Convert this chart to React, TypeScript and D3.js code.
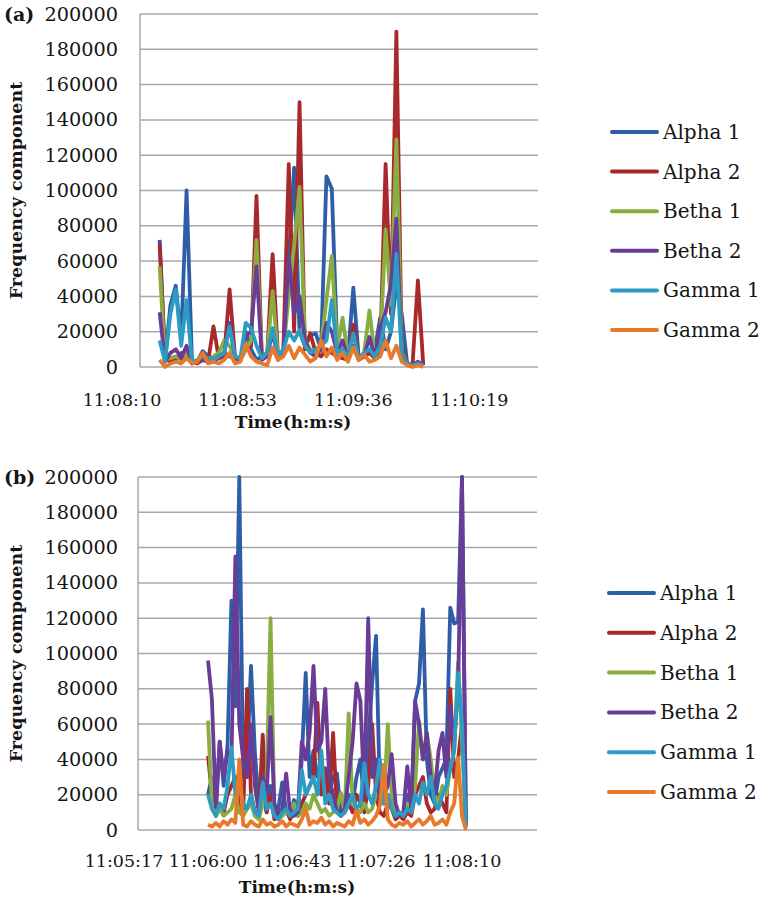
import React from "react";
import * as d3 from "d3";

// series (values in thousands)
const seriesNames = ["Alpha 1", "Alpha 2", "Betha 1", "Betha 2", "Gamma 1", "Gamma 2"];
const seriesColors = ["#2F5EA8", "#A8282C", "#88AE42", "#693C97", "#2C9CC2", "#E8782A"];
const yTicks = [0, 20, 40, 60, 80, 100, 120, 140, 160, 180, 200];

// panel (a)
const timeTicksA = ["11:08:10", "11:08:53", "11:09:36", "11:10:19"];
const startA = "11:08:24";
const stepA = 2; // seconds between samples
const alpha1A = [72, 4, 35, 46, 15, 100, 4, 3, 9, 6, 3, 5, 8, 6, 5, 4, 20, 10, 4, 6, 8, 10, 5, 8, 60, 113, 20, 12, 18, 19, 10, 108, 101, 12, 8, 6, 45, 5, 6, 8, 10, 28, 10, 20, 47, 30, 2, 1, 2, 1];
const alpha2A = [70, 5, 3, 4, 8, 6, 3, 2, 4, 3, 23, 5, 6, 44, 6, 4, 10, 12, 97, 5, 8, 64, 6, 10, 115, 20, 150, 10, 19, 8, 6, 10, 8, 6, 5, 4, 24, 5, 6, 8, 5, 10, 115, 30, 190, 10, 2, 1, 49, 1];
const betha1A = [57, 4, 5, 6, 4, 8, 2, 3, 5, 4, 6, 8, 15, 12, 5, 4, 10, 15, 72, 6, 8, 43, 5, 10, 40, 69, 102, 15, 10, 8, 12, 38, 63, 10, 28, 6, 10, 5, 8, 32, 6, 12, 78, 35, 129, 8, 2, 1, 2, 1];
const betha2A = [31, 3, 8, 10, 5, 12, 2, 3, 4, 5, 4, 6, 8, 25, 5, 4, 18, 20, 57, 4, 6, 20, 4, 8, 63, 30, 40, 15, 8, 6, 10, 25, 20, 8, 15, 5, 12, 4, 6, 17, 5, 22, 31, 47, 84, 6, 2, 1, 3, 1];
const gamma1A = [15, 3, 30, 44, 12, 38, 3, 4, 6, 5, 4, 6, 8, 23, 6, 5, 25, 22, 12, 5, 8, 22, 6, 10, 20, 15, 21, 12, 8, 10, 12, 15, 38, 8, 10, 6, 19, 5, 8, 10, 6, 12, 28, 20, 64, 5, 2, 1, 2, 1];
const gamma2A = [4, 0, 2, 3, 2, 5, 2, 3, 8, 2, 3, 2, 4, 8, 2, 3, 13, 6, 3, 2, 1, 11, 4, 6, 12, 5, 11, 7, 3, 5, 15, 6, 11, 4, 8, 3, 11, 4, 7, 3, 4, 6, 15, 5, 12, 3, 1, 0, 1, 0];

// panel (b)
const timeTicksB = ["11:05:17", "11:06:00", "11:06:43", "11:07:26", "11:08:10"];
const startB = "11:06:00";
const stepB = 2;
const alpha1B = [20, 30, 10, 50, 25, 48, 130, 70, 200, 30, 40, 93, 44, 15, 20, 10, 25, 8, 12, 27, 10, 8, 17, 12, 40, 89, 30, 45, 30, 35, 25, 20, 30, 32, 10, 12, 20, 15, 30, 40, 15, 50, 83, 110, 20, 15, 20, 15, 8, 10, 8, 20, 10, 73, 83, 125, 40, 20, 15, 30, 35, 40, 126, 117, 118, 200, 2];
const alpha2B = [42, 20, 8, 15, 10, 20, 25, 30, 15, 10, 80, 20, 10, 8, 54, 10, 20, 6, 8, 10, 12, 6, 10, 8, 15, 20, 25, 30, 72, 20, 35, 15, 55, 12, 8, 10, 15, 10, 20, 15, 10, 25, 60, 20, 10, 8, 15, 12, 6, 8, 6, 10, 8, 20, 25, 30, 15, 10, 12, 20, 15, 10, 80, 30, 40, 60, 2];
const betha1B = [62, 15, 8, 12, 8, 10, 12, 20, 10, 8, 12, 15, 8, 6, 15, 30, 120, 10, 6, 8, 10, 12, 15, 8, 10, 15, 12, 20, 15, 10, 12, 8, 10, 12, 21, 10, 66, 15, 12, 10, 15, 10, 12, 20, 30, 15, 60, 20, 10, 8, 10, 15, 10, 25, 62, 40, 55, 40, 20, 15, 25, 20, 35, 45, 95, 50, 3];
const betha2B = [96, 74, 13, 50, 30, 45, 40, 155, 60, 40, 30, 60, 25, 10, 30, 20, 64, 15, 8, 12, 32, 10, 8, 10, 50, 40, 55, 93, 45, 50, 80, 30, 20, 10, 8, 12, 30, 50, 83, 73, 20, 120, 30, 40, 15, 20, 25, 43, 15, 8, 10, 36, 12, 73, 60, 40, 55, 30, 20, 45, 55, 30, 70, 50, 80, 200, 3];
const gamma1B = [20, 12, 8, 15, 12, 25, 47, 20, 25, 15, 12, 20, 10, 8, 27, 12, 15, 8, 6, 10, 12, 8, 10, 12, 34, 20, 25, 30, 20, 45, 15, 20, 12, 10, 8, 10, 15, 20, 12, 15, 38, 20, 15, 25, 40, 15, 20, 12, 8, 10, 8, 12, 10, 20, 15, 27, 20, 30, 15, 12, 20, 25, 35, 45, 89, 60, 2];
const gamma2B = [3, 2, 4, 2, 5, 3, 6, 4, 40, 3, 2, 5, 3, 2, 6, 3, 4, 2, 3, 5, 2, 4, 3, 2, 6, 12, 3, 5, 4, 7, 3, 5, 2, 4, 3, 2, 5, 3, 11, 4, 6, 3, 5, 8, 14, 37, 6, 3, 2, 4, 3, 5, 2, 4, 6, 3, 5, 8, 3, 4, 6, 3, 10, 15, 41, 8, 0];

const SERIF = "'DejaVu Serif', serif";

const toSec = (s: string) => {
  const [h, m, ss] = s.split(":").map(Number);
  return h * 3600 + m * 60 + ss;
};

function Panel({ tag, layout, ticks, start, step, series }: any) {
  const L = layout;
  const y = d3.scaleLinear().domain([0, 200]).range([L.bottom, L.top]);
  const x = d3
    .scaleLinear()
    .domain([toSec(ticks[0]), toSec(ticks[ticks.length - 1])])
    .range(L.tickX);
  const t0 = toSec(start);
  const line = d3
    .line<number>()
    .x((d, i) => x(t0 + i * step))
    .y((d) => y(d));

  return (
    <g>
      {/* gridlines */}
      {yTicks.map((t) => (
        <line key={t} x1={L.left} x2={L.right} y1={y(t)} y2={y(t)} stroke="#A8A8A8" strokeWidth={1.5} />
      ))}
      <line x1={L.left} x2={L.left} y1={y(200)} y2={y(0)} stroke="#A8A8A8" strokeWidth={1.5} />
      {yTicks.map((t) => (
        <text key={t} x={118} y={y(t)} textAnchor="end" dominantBaseline="central" fontSize={19.3} fill="#151515">
          {String(t * 1000)}
        </text>
      ))}
      {ticks.map((t: string) => (
        <text key={t} x={x(toSec(t))} y={L.xLabelY} textAnchor="middle" fontSize={17.5} fill="#151515">
          {t}
        </text>
      ))}
      {/* series, first drawn at the back */}
      {series.map((s: number[], k: number) => (
        <path key={k} d={line(s) || ""} fill="none" stroke={seriesColors[k]} strokeWidth={3.8} strokeLinejoin="round" />
      ))}
      <text x={4} y={y(200)} dominantBaseline="central" fontSize={19} fontWeight="bold" fill="#151515">
        {tag}
      </text>
      <text
        transform={`translate(16,${(L.top + L.bottom) / 2}) rotate(-90)`}
        textAnchor="middle"
        dominantBaseline="central"
        fontSize={17.5}
        fontWeight="bold"
        fill="#151515"
      >
        Frequency component
      </text>
      <text x={L.titleX} y={L.xTitleY} textAnchor="middle" fontSize={17} fontWeight="bold" fill="#151515">
        Time(h:m:s)
      </text>
      {/* legend */}
      {seriesNames.map((n, k) => {
        const ly = L.legY + k * L.legDy;
        return (
          <g key={n}>
            <line x1={L.legX[0]} x2={L.legX[1]} y1={ly} y2={ly} stroke={seriesColors[k]} strokeWidth={4} strokeLinecap="round" />
            <text x={L.legX[1] + 6} y={ly} dominantBaseline="central" fontSize={20} fill="#151515">
              {n}
            </text>
          </g>
        );
      })}
    </g>
  );
}

const layoutA = {
  left: 140, right: 538, top: 14, bottom: 367,
  tickX: [122, 469], xLabelY: 406, xTitleY: 428, titleX: 293,
  legX: [612, 657], legY: 132, legDy: 39.6,
};
const layoutB = {
  left: 138, right: 537, top: 477, bottom: 830,
  tickX: [124, 462], xLabelY: 867, xTitleY: 893, titleX: 297,
  legX: [609, 654], legY: 593, legDy: 39.8,
};

export default function App() {
  return (
    <svg
      width={768}
      height={908}
      style={{ position: "absolute", left: 0, top: 0, background: "#fff" }}
      fontFamily={SERIF}
    >
      <Panel
        tag="(a)"
        layout={layoutA}
        ticks={timeTicksA}
        start={startA}
        step={stepA}
        series={[alpha1A, alpha2A, betha1A, betha2A, gamma1A, gamma2A]}
      />
      <Panel
        tag="(b)"
        layout={layoutB}
        ticks={timeTicksB}
        start={startB}
        step={stepB}
        series={[alpha1B, alpha2B, betha1B, betha2B, gamma1B, gamma2B]}
      />
    </svg>
  );
}
